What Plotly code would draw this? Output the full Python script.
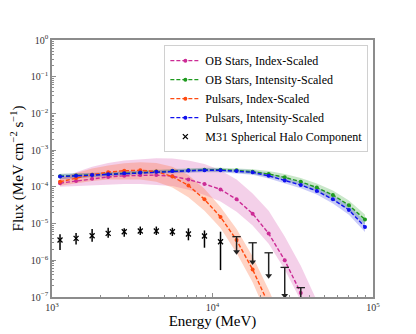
import plotly.graph_objects as go

# Energy bins (MeV), log10 centres
log_e = [3.05, 3.15, 3.25, 3.35, 3.45, 3.55, 3.65, 3.75, 3.85, 3.95,
         4.05, 4.15, 4.25, 4.35, 4.45, 4.55, 4.65, 4.75, 4.85, 4.95]
energy = [10 ** v for v in log_e]

# Model curves, log10 flux (MeV cm^-2 s^-1)
ob_index = [-3.90, -3.84, -3.78, -3.73, -3.70, -3.68, -3.68, -3.71, -3.80, -3.92,
            -4.07, -4.34, -4.73, -5.27, -6.00, -6.89]
ob_index_hi = [-3.80, -3.60, -3.45, -3.35, -3.28, -3.24, -3.22, -3.23, -3.28, -3.38,
               -3.55, -3.80, -4.18, -4.65, -5.35, -6.15, -7.10]
ob_index_lo = [-4.00, -3.98, -3.95, -3.93, -3.92, -3.92, -3.94, -3.98, -4.08, -4.22,
               -4.40, -4.68, -5.05, -5.55, -6.25, -7.10]

ob_int = [-3.71, -3.69, -3.67, -3.65, -3.62, -3.60, -3.58, -3.56, -3.545, -3.535,
          -3.535, -3.55, -3.59, -3.65, -3.74, -3.86, -4.02, -4.22, -4.50, -4.89]
ob_int_hi = [-3.64, -3.63, -3.61, -3.60, -3.57, -3.55, -3.53, -3.51, -3.495, -3.48,
             -3.48, -3.49, -3.52, -3.57, -3.65, -3.76, -3.91, -4.10, -4.37, -4.75]
ob_int_lo = [-3.78, -3.75, -3.73, -3.70, -3.67, -3.65, -3.63, -3.61, -3.60, -3.59,
             -3.59, -3.61, -3.66, -3.73, -3.83, -3.96, -4.13, -4.35, -4.64, -5.03]

psr_index = [-3.86, -3.76, -3.67, -3.60, -3.56, -3.55, -3.58, -3.72, -3.96, -4.34,
             -4.82, -5.45, -6.25, -7.20]
psr_index_hi = [-3.75, -3.62, -3.50, -3.42, -3.36, -3.33, -3.35, -3.45, -3.68, -4.05,
                -4.55, -5.15, -5.90, -6.80, -7.80]
psr_index_lo = [-3.97, -3.90, -3.84, -3.80, -3.79, -3.80, -3.86, -4.02, -4.28, -4.65,
                -5.12, -5.80, -6.60, -7.60]

psr_int = [-3.72, -3.70, -3.68, -3.66, -3.63, -3.61, -3.59, -3.57, -3.555, -3.545,
           -3.55, -3.57, -3.605, -3.70, -3.83, -3.95, -4.11, -4.34, -4.63, -5.09]
psr_int_hi = [-3.65, -3.64, -3.62, -3.61, -3.58, -3.56, -3.54, -3.52, -3.505, -3.495,
              -3.50, -3.51, -3.54, -3.63, -3.75, -3.86, -4.01, -4.23, -4.50, -4.95]
psr_int_lo = [-3.79, -3.76, -3.74, -3.71, -3.68, -3.66, -3.64, -3.62, -3.605, -3.60,
              -3.60, -3.63, -3.67, -3.77, -3.91, -4.04, -4.21, -4.45, -4.76, -5.23]

# M31 halo component: detections
det_e = [3.05, 3.15, 3.25, 3.35, 3.45, 3.55, 3.65, 3.75, 3.85, 3.95, 4.05]
det_flux = [3.55e-6, 3.95e-6, 4.65e-6, 5.4e-6, 6.0e-6, 6.3e-6, 6.3e-6, 6.0e-6, 5.2e-6, 4.6e-6, 3.2e-6]
det_hi = [5.1e-6, 5.5e-6, 7.1e-6, 7.7e-6, 7.4e-6, 8.3e-6, 8.3e-6, 7.7e-6, 7.4e-6, 6.5e-6, 6.0e-6]
det_lo = [1.9e-6, 2.7e-6, 3.2e-6, 4.1e-6, 4.4e-6, 4.9e-6, 4.9e-6, 4.6e-6, 3.5e-6, 2.2e-6, 5.4e-7]

# M31 halo component: upper limits
ul_e = [4.15, 4.25, 4.35, 4.45, 4.55]
ul_flux = [4.4e-6, 3.0e-6, 1.6e-6, 6.4e-7, 1.8e-7]
ul_tip = [1.7e-6, 9.0e-7, 3.8e-7, 1.1e-7, 3.0e-8]

xtick_vals = [1e3, 1e4, 1e5]
xtick_text = ["10<sup>3</sup>", "10<sup>4</sup>", "10<sup>5</sup>"]
ytick_vals = [1e-7, 1e-6, 1e-5, 1e-4, 1e-3, 1e-2, 1e-1, 1e0]
ytick_text = ["10<sup>\u22127</sup>", "10<sup>\u22126</sup>", "10<sup>\u22125</sup>",
              "10<sup>\u22124</sup>", "10<sup>\u22123</sup>", "10<sup>\u22122</sup>",
              "10<sup>\u22121</sup>", "10<sup>0</sup>"]

serif = "Liberation Serif"


def p10(vals):
    return [10 ** v for v in vals]


series = [
    ("OB Stars, Index-Scaled", ob_index, ob_index_hi, ob_index_lo,
     "#cc2b95", "rgba(218,100,182,0.30)"),
    ("OB Stars, Intensity-Scaled", ob_int, ob_int_hi, ob_int_lo,
     "#1f9a1f", "rgba(60,170,60,0.28)"),
    ("Pulsars, Index-Scaled", psr_index, psr_index_hi, psr_index_lo,
     "#ff4a10", "rgba(255,110,60,0.30)"),
    ("Pulsars, Intensity-Scaled", psr_int, psr_int_hi, psr_int_lo,
     "#1010ee", "rgba(60,70,230,0.28)"),
]

fig = go.Figure()

# shaded bands
for name, mid, hi, lo, col, fcol in series:
    fig.add_trace(go.Scatter(x=energy[:len(hi)], y=p10(hi), mode="lines",
                             line=dict(width=0, color=fcol), showlegend=False,
                             hoverinfo="skip"))
    fig.add_trace(go.Scatter(x=energy[:len(hi)], y=p10(lo + [-9] * (len(hi) - len(lo))),
                             mode="lines", line=dict(width=0, color=fcol),
                             fill="tonexty", fillcolor=fcol, showlegend=False,
                             hoverinfo="skip"))

# model lines
for name, mid, hi, lo, col, fcol in series:
    fig.add_trace(go.Scatter(x=energy[:len(mid)], y=p10(mid), mode="lines+markers",
                             name=name, line=dict(color=col, width=1.4, dash="4px,2px"),
                             marker=dict(color=col, size=4)))

# detections
fig.add_trace(go.Scatter(
    x=[10 ** v for v in det_e], y=det_flux, mode="markers",
    name="M31 Spherical Halo Component",
    marker=dict(symbol="x-thin", size=5, line=dict(color="black", width=1.3)),
    error_y=dict(type="data", symmetric=False,
                 array=[h - f for h, f in zip(det_hi, det_flux)],
                 arrayminus=[f - l for f, l in zip(det_flux, det_lo)],
                 color="black", thickness=1.5, width=0)))

# upper limits: bar + cap + arrowhead
fig.add_trace(go.Scatter(
    x=[10 ** v for v in ul_e], y=ul_flux, mode="markers", showlegend=False,
    marker=dict(symbol="line-ew", size=6, line=dict(color="#222", width=1.3)),
    error_y=dict(type="data", symmetric=False, array=[0] * len(ul_flux),
                 arrayminus=[u - t for u, t in zip(ul_flux, ul_tip)],
                 color="#222", thickness=1.5, width=0)))
fig.add_trace(go.Scatter(
    x=[10 ** v for v in ul_e], y=ul_tip, mode="markers", showlegend=False,
    marker=dict(symbol="triangle-down", size=6, color="#222")))

axis_common = dict(
    type="log", showline=True, linecolor="#8c8c8c", linewidth=1.5, mirror=True,
    ticks="inside", ticklen=4, tickcolor="#8c8c8c", showgrid=False, zeroline=False,
    automargin=False,
    tickfont=dict(family=serif, size=10, color="#333"),
    minor=dict(ticks="inside", ticklen=2, tickcolor="#8c8c8c", dtick="D1", showgrid=False),
)

fig.update_xaxes(**axis_common, range=[3, 5], tickvals=xtick_vals, ticktext=xtick_text,
                 title=dict(text="Energy (MeV)", font=dict(family=serif, size=15, color="black"),
                            standoff=4))
fig.update_yaxes(**axis_common, range=[-7, 0], tickvals=ytick_vals, ticktext=ytick_text,
                 title=dict(text="Flux (MeV cm<sup>\u22122</sup> s<sup>\u22121</sup>)",
                            font=dict(family=serif, size=15, color="black"), standoff=4))

# page body adds an 8px margin, so the figure is sized to fit inside it
fig.update_layout(
    width=408, height=326,
    margin=dict(l=44, r=43, t=32, b=37),
    paper_bgcolor="white", plot_bgcolor="white",
    font=dict(family=serif, color="black"),
    legend=dict(x=0.35, y=0.98, xanchor="left", yanchor="top", traceorder="normal",
                itemwidth=30,
                bgcolor="rgba(255,255,255,0.9)", bordercolor="#d0d0d0", borderwidth=1,
                font=dict(family=serif, size=12, color="black"),
                tracegroupgap=0),
)

fig.write_html("out.html")
